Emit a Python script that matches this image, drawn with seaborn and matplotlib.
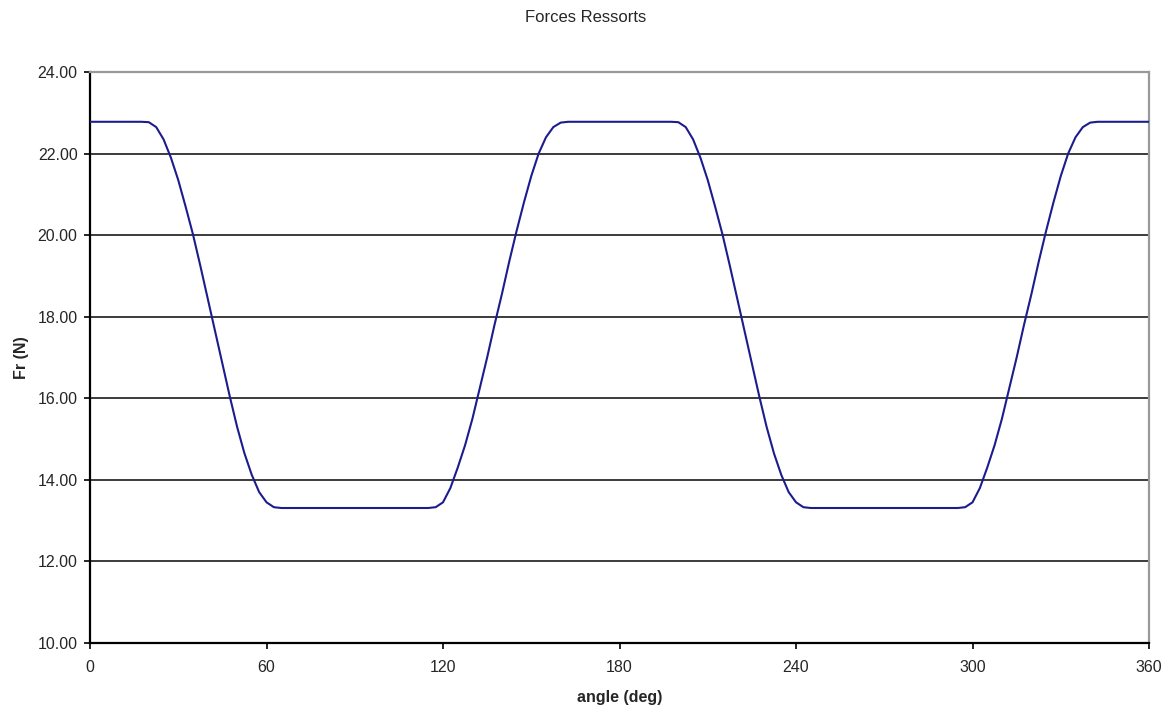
import numpy as np
import pandas as pd
import matplotlib
matplotlib.use("Agg")
import matplotlib.pyplot as plt
import seaborn as sns

# Values (angle in deg, spring force in N)
angle = [0, 17.5, 20, 22.5, 25, 27.5, 30, 32.5, 35, 37.5, 40, 42.5, 45, 47.5,
         50, 52.5, 55, 57.5, 60, 62.5, 65,
         115, 117.5, 120, 122.5, 125, 127.5, 130, 132.5, 135, 137.5, 140,
         142.5, 145, 147.5, 150, 152.5, 155, 157.5, 160, 162.5,
         197.5, 200, 202.5, 205, 207.5, 210, 212.5, 215, 217.5, 220, 222.5,
         225, 227.5, 230, 232.5, 235, 237.5, 240, 242.5, 245,
         295, 297.5, 300, 302.5, 305, 307.5, 310, 312.5, 315, 317.5, 320,
         322.5, 325, 327.5, 330, 332.5, 335, 337.5, 340, 342.5, 360]

force = [22.78, 22.78, 22.77, 22.65, 22.35, 21.90, 21.35, 20.70, 20.02, 19.25,
         18.45, 17.65, 16.85, 16.05, 15.30, 14.65, 14.12, 13.70, 13.45, 13.33,
         13.31,
         13.31, 13.33, 13.45, 13.80, 14.30, 14.85, 15.50, 16.25, 17.00, 17.80,
         18.55, 19.35, 20.10, 20.80, 21.45, 22.00, 22.40, 22.65, 22.76, 22.78,
         22.78, 22.77, 22.65, 22.35, 21.90, 21.35, 20.70, 20.02, 19.25, 18.45,
         17.65, 16.85, 16.05, 15.30, 14.65, 14.12, 13.70, 13.45, 13.33, 13.31,
         13.31, 13.33, 13.45, 13.80, 14.30, 14.85, 15.50, 16.25, 17.00, 17.80,
         18.55, 19.35, 20.10, 20.80, 21.45, 22.00, 22.40, 22.65, 22.76, 22.78,
         22.78]

x_ticks = [0, 60, 120, 180, 240, 300, 360]
y_ticks = [10, 12, 14, 16, 18, 20, 22, 24]

df = pd.DataFrame({"angle": angle, "Fr": force})

sns.set_style("white")
plt.rcParams["font.family"] = ["Liberation Sans", "DejaVu Sans"]

fig = plt.figure(figsize=(11.72, 7.09), dpi=100)
ax = fig.add_axes([0.0768, 0.0931, 0.9036, 0.8053])

# horizontal grid lines behind the curve
for yv in y_ticks[1:-1]:
    ax.axhline(yv, color="#1a1a1a", linewidth=1.2, zorder=1)

sns.lineplot(data=df, x="angle", y="Fr", ax=ax, color="#1c1c8e",
             linewidth=1.5, zorder=3)

ax.set_xlim(0, 360)
ax.set_ylim(10, 24)
ax.set_xticks(x_ticks)
ax.set_yticks(y_ticks)
ax.set_yticklabels([f"{v:.2f}" for v in y_ticks])
ax.tick_params(axis="both", direction="out", length=4, width=1.2,
               labelsize=11.5, color="black", bottom=True, left=True)
ax.tick_params(axis="y", pad=5)
ax.tick_params(axis="x", pad=8)

for side in ["left", "bottom"]:
    ax.spines[side].set_color("black")
    ax.spines[side].set_linewidth(1.6)
for side in ["top", "right"]:
    ax.spines[side].set_color("#999999")
    ax.spines[side].set_linewidth(1.6)

ax.set_xlabel("angle (deg)", fontsize=11.5, fontweight="bold", labelpad=11)
ax.set_ylabel("Fr (N)", fontsize=11.5, fontweight="bold", labelpad=6)
fig.suptitle("Forces Ressorts", x=0.5, y=0.975, va="center", fontsize=12)

plt.savefig("out.png", dpi=100)
